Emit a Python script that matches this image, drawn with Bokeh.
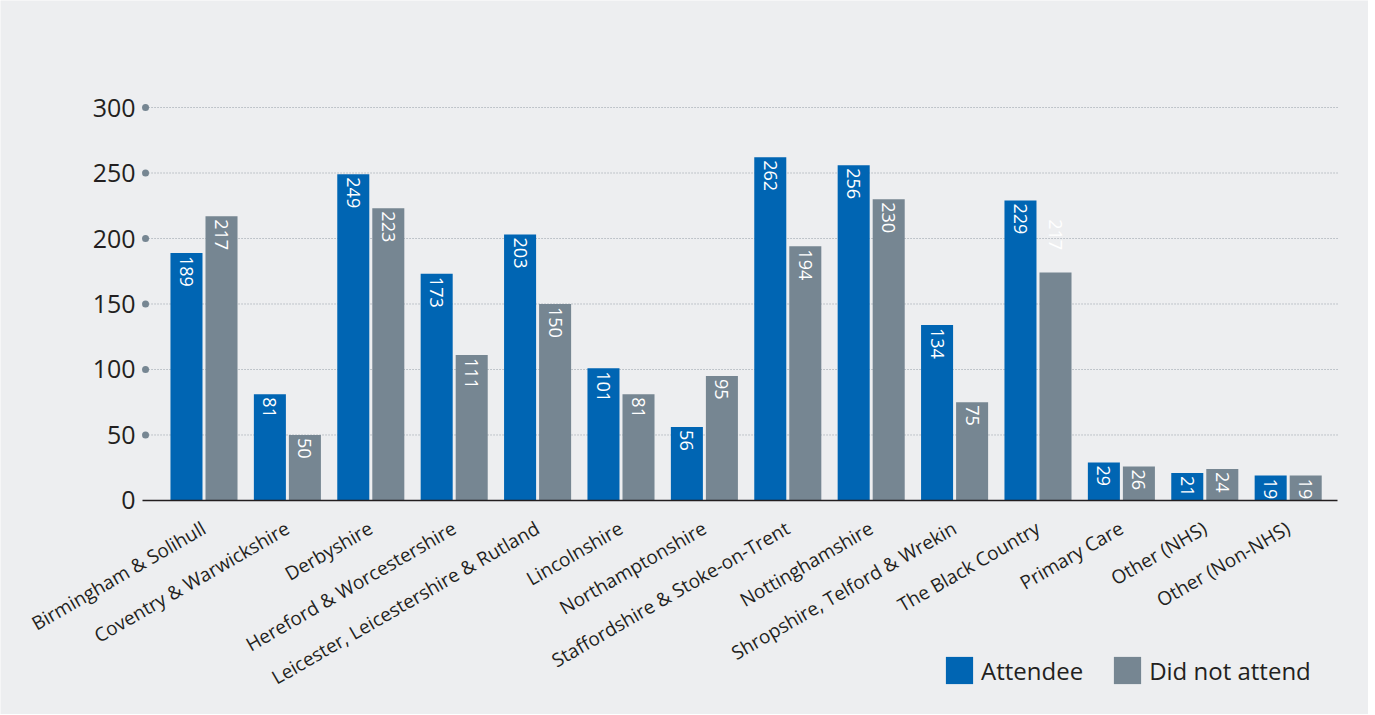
import math
from bokeh.plotting import figure
from bokeh.models import Range1d, FixedTicker, Legend, LegendItem, ColumnDataSource
from bokeh.core.properties import value
from bokeh.embed import file_html
from bokeh.resources import INLINE

categories = [
    "Birmingham & Solihull", "Coventry & Warwickshire", "Derbyshire",
    "Hereford & Worcestershire", "Leicester, Leicestershire & Rutland",
    "Lincolnshire", "Northamptonshire", "Staffordshire & Stoke-on-Trent",
    "Nottinghamshire", "Shropshire, Telford & Wrekin", "The Black Country",
    "Primary Care", "Other (NHS)", "Other (Non-NHS)",
]
attendee = [189, 81, 249, 173, 203, 101, 56, 262, 256, 134, 229, 29, 21, 19]
did_not_attend = [217, 50, 223, 111, 150, 81, 95, 194, 230, 75, 174, 26, 24, 19]
did_not_attend_labels = [217, 50, 223, 111, 150, 81, 95, 194, 230, 75, 217, 26, 24, 19]
y_ticks = [0, 50, 100, 150, 200, 250, 300]

BLUE = "#0065b3"
GREY = "#768692"
BG = "#edeef0"
TEXT = "#231f20"
FONT = "Open Sans"

n = len(categories)
idx = list(range(n))
# layout (data units): full figure is the frame; axes are placed inside it
view_x = (-2.440, 13.963)
view_y = (-163.4, 381.7)
axis_lo, axis_hi = -0.737, 13.594
dot_dx = 0.036
off = 0.21
bw = 0.384

p = figure(width=1368, height=714, output_backend="svg", toolbar_location=None,
           x_range=Range1d(*view_x), y_range=Range1d(*view_y),
           min_border_left=0, min_border_right=0, min_border_top=0,
           min_border_bottom=0)
p.background_fill_color = BG
p.border_fill_color = BG
p.outline_line_color = None
p.xgrid.grid_line_color = None
p.ygrid.grid_line_color = None

# dotted gridlines
grid_y = y_ticks[1:]
p.segment(x0=[axis_lo + dot_dx] * len(grid_y), x1=[axis_hi] * len(grid_y),
          y0=grid_y, y1=grid_y, line_color="#939ca5", line_dash="1 2",
          line_width=1)
# tick dots
p.scatter(x=[axis_lo + dot_dx] * len(grid_y), y=grid_y, size=7,
          fill_color=GREY, line_color=None)

src_a = ColumnDataSource(dict(x=[i - off for i in idx], top=attendee,
                              lab=[str(v) for v in attendee]))
src_d = ColumnDataSource(dict(x=[i + off for i in idx], top=did_not_attend,
                              ly=did_not_attend_labels,
                              lab=[str(v) for v in did_not_attend_labels]))

ra = p.vbar(x="x", top="top", bottom=0, width=bw, source=src_a,
            fill_color=BLUE, line_color=None)
rd = p.vbar(x="x", top="top", bottom=0, width=bw, source=src_d,
            fill_color=GREY, line_color=None)

for src, ycol in ((src_a, "top"), (src_d, "ly")):
    p.text(x="x", y=ycol, text="lab", source=src, angle=-math.pi / 2,
           text_align="left", text_baseline="middle", y_offset=3,
           text_color="white", text_font=value(FONT), text_font_size="18px")

# axes
xa = p.xaxis[0]
xa.fixed_location = 0
xa.bounds = (axis_lo, axis_hi)
xa.ticker = FixedTicker(ticks=idx)
xa.major_label_overrides = {i: c for i, c in enumerate(categories)}
xa.major_label_orientation = math.pi / 6
xa.major_label_text_font = FONT
xa.major_label_text_font_size = "19px"
xa.major_label_text_color = TEXT
xa.major_label_standoff = 26
xa.major_tick_line_color = None
xa.major_tick_out = 0
xa.major_tick_in = 0
xa.minor_tick_line_color = None
xa.axis_line_color = TEXT
xa.axis_line_width = 1.5

ya = p.yaxis[0]
ya.fixed_location = axis_lo
ya.ticker = FixedTicker(ticks=y_ticks)
ya.major_label_text_font = FONT
ya.major_label_text_font_size = "25px"
ya.major_label_text_color = TEXT
ya.major_label_standoff = 7
ya.major_tick_line_color = None
ya.major_tick_out = 0
ya.major_tick_in = 0
ya.minor_tick_line_color = None
ya.axis_line_color = None

legend = Legend(items=[LegendItem(label="Attendee", renderers=[ra]),
                       LegendItem(label="Did not attend", renderers=[rd])],
                location=(942, 27), orientation="horizontal",
                glyph_width=34, glyph_height=34, label_standoff=5, spacing=27,
                padding=0, margin=0, border_line_color=None,
                background_fill_alpha=0,
                label_text_font=FONT, label_text_font_size="24px",
                label_text_color=TEXT, label_text_baseline="middle")
p.add_layout(legend, "center")

open("out.html", "w").write(file_html(p, INLINE))
